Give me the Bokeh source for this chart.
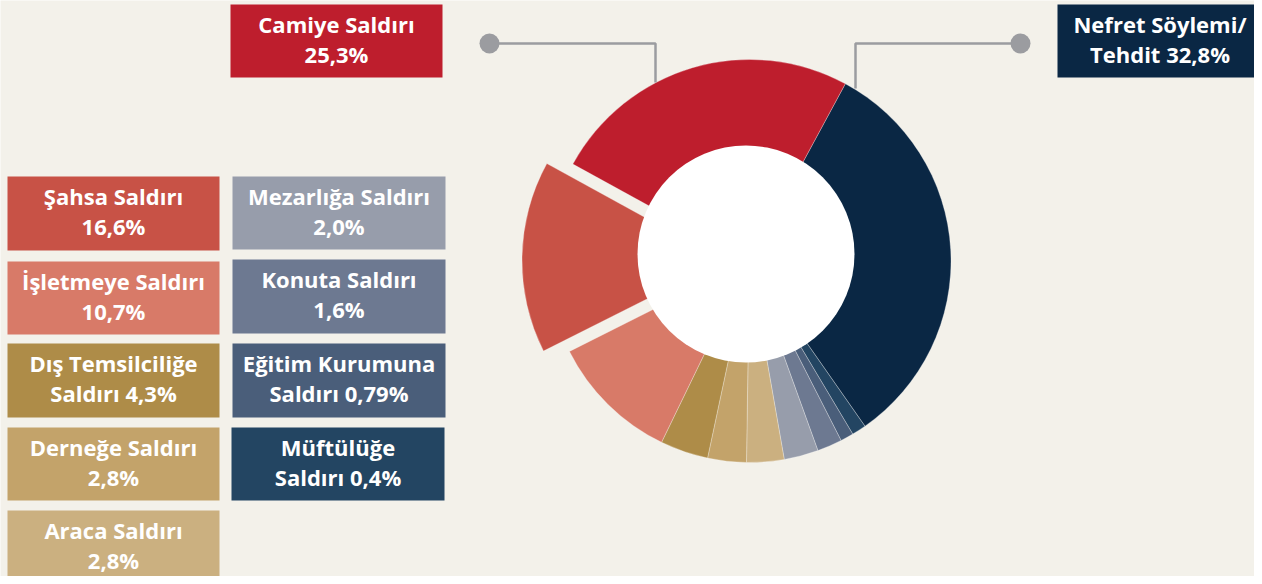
import math
from bokeh.plotting import figure
from bokeh.models import Range1d, ColumnDataSource
from bokeh.embed import file_html
from bokeh.resources import INLINE
from bokeh.core.properties import value

# ---- data (clockwise order, starting at the top-right) ----
categories = ["Nefret Söylemi/Tehdit", "Müftülüğe Saldırı", "Eğitim Kurumuna Saldırı",
              "Konuta Saldırı", "Mezarlığa Saldırı", "Araca Saldırı", "Derneğe Saldırı",
              "Dış Temsilciliğe Saldırı", "İşletmeye Saldırı", "Şahsa Saldırı", "Camiye Saldırı"]
# values printed in the label boxes
label_shares = [32.8, 0.4, 0.79, 1.6, 2.0, 2.8, 2.8, 4.3, 10.7, 16.6, 25.3]
# slice sizes as drawn in the donut (%)
slice_shares = [32.4, 1.15, 1.05, 2.0, 2.75, 3.0, 3.1, 3.85, 10.4, 15.4, 24.9]
colors = ["#0a2744", "#234562", "#4a5e7a", "#6d7991", "#979dab", "#cbb080",
          "#c3a36a", "#ae8c48", "#d87a68", "#c85246", "#be1e2d"]
label_top = ["Nefret Söylemi/", "Müftülüğe", "Eğitim Kurumuna", "Konuta Saldırı",
             "Mezarlığa Saldırı", "Araca Saldırı", "Derneğe Saldırı", "Dış Temsilciliğe",
             "İşletmeye Saldırı", "Şahsa Saldırı", "Camiye Saldırı"]
label_bottom = ["Tehdit {}%", "Saldırı {}%", "Saldırı {}%", "{}%", "{}%", "{}%", "{}%",
                "Saldırı {}%", "{}%", "{}%", "{}%"]
exploded = "Şahsa Saldırı"

# ---- layout (reference pixel coordinates) ----
FW, FH = 1254, 576
def Y(y):
    return FH - y

CX, CY, R = 749.0, 260.5, 201.5
HOLE_X, HOLE_Y, HOLE_R = 745.5, 253.5, 108.5
START_DEG = 28.4
EXPLODE = 26.0

boxes = {  # left, right, top, bottom
    "Camiye Saldırı": (230, 442, 4, 77),
    "Nefret Söylemi/Tehdit": (1057, 1262, 4, 77),
    "Şahsa Saldırı": (7, 219, 176, 250),
    "İşletmeye Saldırı": (7, 219, 261, 334),
    "Dış Temsilciliğe Saldırı": (7, 219, 343, 417),
    "Derneğe Saldırı": (7, 219, 427, 500),
    "Araca Saldırı": (7, 219, 510, 584),
    "Mezarlığa Saldırı": (232, 445, 176, 249),
    "Konuta Saldırı": (232, 445, 259, 333),
    "Eğitim Kurumuna Saldırı": (232, 445, 343, 417),
    "Müftülüğe Saldırı": (231, 444, 427, 500),
}

BG = "#f3f1ea"
p = figure(width=FW, height=FH, x_range=Range1d(0, FW), y_range=Range1d(0, FH),
           output_backend="svg", toolbar_location=None, min_border=0)
p.axis.visible = False
p.grid.visible = False
p.outline_line_color = None
p.background_fill_color = BG
p.border_fill_color = BG

# ---- donut ----
total = sum(slice_shares)
xs, ys, sa, ea = [], [], [], []
theta = START_DEG
for cat, v in zip(categories, slice_shares):
    span = v / total * 360.0
    t0, t1 = theta, theta + span
    theta = t1
    mid = math.radians((t0 + t1) / 2)
    off = EXPLODE if cat == exploded else 0.0
    xs.append(CX + off * math.sin(mid))
    ys.append(Y(CY) + off * math.cos(mid))
    sa.append(math.radians(90 - t1))
    ea.append(math.radians(90 - t0))

src = ColumnDataSource(dict(x=xs, y=ys, start=sa, end=ea, color=colors))
p.wedge(x="x", y="y", radius=R, start_angle="start", end_angle="end",
        fill_color="color", line_color="white", line_alpha=0.35, line_width=0.8, source=src)
p.circle(x=[HOLE_X], y=[Y(HOLE_Y)], radius=HOLE_R, fill_color="white", line_color=None)

# ---- connectors ----
conn = "#9b9ca0"
p.line(x=[489, 655, 655], y=[Y(43), Y(43), Y(82)], line_color=conn, line_width=2.5)
p.line(x=[1020, 855, 855], y=[Y(43), Y(43), Y(88)], line_color=conn, line_width=2.5)
p.scatter(x=[489, 1020], y=[Y(43), Y(43)], size=20, marker="circle",
          fill_color=conn, line_color=None)

# ---- label boxes ----
for cat, v, col, t1, t2 in zip(categories, label_shares, colors, label_top, label_bottom):
    l, r, t, b = boxes[cat]
    p.quad(left=[l], right=[r], top=[Y(t)], bottom=[Y(b)], fill_color=col, line_color=None)
    cx = (l + r) / 2
    cy = (t + b) / 2
    pct = str(v).replace(".", ",")
    p.text(x=[cx, cx], y=[Y(cy - 17.5), Y(cy + 12.5)], text=[t1, t2.format(pct)],
           text_align="center", text_baseline="middle", text_color="white",
           text_font=value("Open Sans"), text_font_style="bold", text_font_size="22px")

open("out.html", "w").write(file_html(p, INLINE))
